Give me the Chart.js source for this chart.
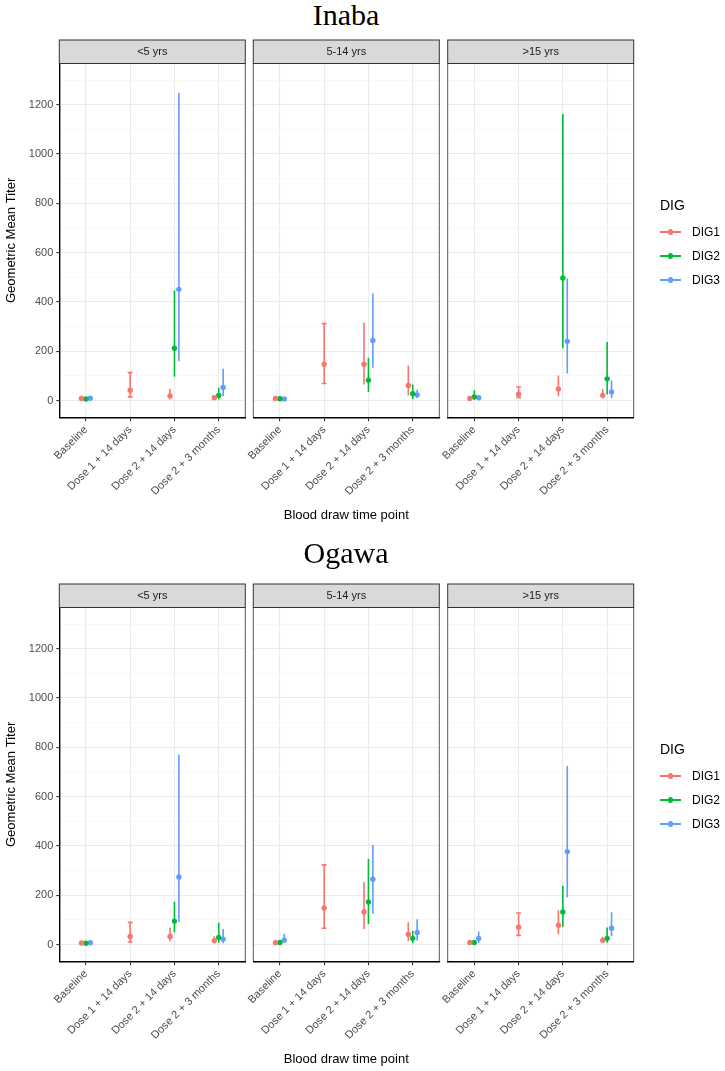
<!DOCTYPE html>
<html>
<head>
<meta charset="utf-8">
<script src="https://cdn.jsdelivr.net/npm/chart.js@4.4.1/dist/chart.umd.min.js"></script>
<style>
  body { margin: 0; background: #fff; }
  #page { position: relative; width: 725px; height: 1071px; overflow: hidden; background: #fff;
          font-family: "Liberation Sans", Arial, sans-serif; }
  #page canvas { position: absolute; left: 0; top: 0; }
  .title { position: absolute; left: 59px; width: 574px; text-align: center; color: #000;
           font-family: "Liberation Serif", "Times New Roman", serif; font-size: 30px; line-height: 30px; }
  .legend { position: absolute; left: 660px; color: #000; }
  .legend .head { font-size: 14px; line-height: 16px; margin-bottom: 7px; }
  .legend .item { position: relative; height: 24px; font-size: 12px; line-height: 24px; padding-left: 32px; }
  .legend .line { position: absolute; left: 0; top: 11px; width: 21px; height: 1.6px; }
  .legend .dot { position: absolute; left: 8px; top: 9.2px; width: 5.4px; height: 5.4px; border-radius: 50%; }
</style>
</head>
<body>
<div id="page"></div>
<script>
const timePoints = ['Baseline', 'Dose 1 + 14 days', 'Dose 2 + 14 days', 'Dose 2 + 3 months'];
const ageGroups = ['<5 yrs', '5-14 yrs', '>15 yrs'];
const digNames = ['DIG1', 'DIG2', 'DIG3'];
const digColors = ['#F8766D', '#00BA38', '#619CFF'];
const yGrid = [0, 100, 200, 300, 400, 500, 600, 700, 800, 900, 1000, 1100, 1200, 1300];
const yLabels = [0, 200, 400, 600, 800, 1000, 1200];

// values are [dig][age group][time point]
const inabaGmt = [
  [[8, 42, 19, 11], [8, 147, 147, 61], [8, 26, 47, 21]],
  [[6, null, 212, 21], [7, null, 82, 28], [15, null, 497, 88]],
  [[9, null, 451, 53], [6, null, 244, 23], [11, null, 240, 35]]
];
const inabaLower = [
  [[5, 15, 8, 6], [6, 69, 68, 24], [5, 13, 21, 13]],
  [[4, null, 100, 8], [5, null, 38, 8], [5, null, 215, 28]],
  [[6, null, 163, 21], [4, null, 136, 13], [7, null, 113, 13]]
];
const inabaUpper = [
  [[12, 113, 45, 18], [11, 312, 312, 139], [11, 55, 98, 44]],
  [[9, null, 443, 49], [10, null, 170, 62], [38, null, 1159, 234]],
  [[13, null, 1244, 126], [9, null, 431, 41], [16, null, 492, 78]]
];

const ogawaGmt = [
  [[6, 33, 33, 16], [7, 148, 132, 41], [8, 70, 78, 17]],
  [[5, null, 95, 29], [8, null, 173, 25], [8, null, 132, 25]],
  [[7, null, 274, 22], [18, null, 265, 49], [25, null, 377, 66]]
];
const ogawaLower = [
  [[4, 10, 17, 8], [5, 66, 66, 17], [5, 37, 45, 10]],
  [[3, null, 53, 10], [5, null, 87, 8], [5, null, 74, 10]],
  [[4, null, 95, 8], [8, null, 128, 20], [8, null, 195, 37]]
];
const ogawaUpper = [
  [[9, 90, 66, 30], [10, 323, 249, 87], [12, 128, 136, 28]],
  [[8, null, 170, 85], [12, null, 344, 53], [12, null, 235, 66]],
  [[11, null, 768, 60], [40, null, 400, 99], [50, null, 721, 128]]
];

const W = 725, H = 1071;
const panelLeft = [59.3, 253.3, 447.7];
const panelWidth = 186;
const stripH = 23.5;
const xAxisH = 110;
const fontFamily = '"Liberation Sans", Arial, sans-serif';
const page = document.getElementById('page');

const errorBars = {
  id: 'errorBars',
  beforeDatasetsDraw(chart) {
    const ctx = chart.ctx, xs = chart.scales.x, ys = chart.scales.y;
    ctx.save();
    ctx.lineWidth = 1.6;
    chart.data.datasets.forEach(ds => {
      ctx.strokeStyle = ds.borderColor;
      ds.data.forEach(p => {
        const px = xs.getPixelForValue(p.x);
        const top = ys.getPixelForValue(p.hi);
        const bot = ys.getPixelForValue(p.lo);
        const c = xs.getPixelForValue(p.x + p.cap) - px;
        ctx.beginPath();
        ctx.moveTo(px, top); ctx.lineTo(px, bot);
        ctx.moveTo(px - c, top); ctx.lineTo(px + c, top);
        ctx.moveTo(px - c, bot); ctx.lineTo(px + c, bot);
        ctx.stroke();
      });
    });
    ctx.restore();
  }
};

const facetFrame = {
  id: 'facetFrame',
  afterDraw(chart, args, opts) {
    const ctx = chart.ctx;
    const {left, right, top, bottom} = chart.chartArea;
    ctx.save();
    ctx.strokeStyle = '#555';
    ctx.lineWidth = 1;
    ctx.beginPath();
    ctx.moveTo(left, bottom); 
    if (!opts.first) ctx.lineTo(left, top); else ctx.moveTo(left, top);
    ctx.lineTo(right, top);
    ctx.lineTo(right, bottom);
    ctx.stroke();
    // strip
    ctx.fillStyle = '#D9D9D9';
    ctx.fillRect(left, top - stripH, right - left, stripH);
    ctx.strokeStyle = '#333';
    ctx.strokeRect(left, top - stripH, right - left, stripH);
    ctx.fillStyle = '#1A1A1A';
    ctx.font = '11px ' + fontFamily;
    ctx.textAlign = 'center';
    ctx.textBaseline = 'middle';
    ctx.fillText(opts.label, (left + right) / 2, top - stripH / 2 + 0.5);
    ctx.restore();
  }
};

function buildDatasets(gmt, lower, upper, a) {
  return digNames.map((name, d) => {
    const pts = [];
    timePoints.forEach((tp, t) => {
      if (gmt[d][a][t] == null) return;
      const present = digNames.map((n, k) => k).filter(k => gmt[k][a][t] != null);
      const n = present.length;
      const i = present.indexOf(d);
      const dodge = 0.3;
      pts.push({
        x: t - dodge / 2 + (i + 0.5) * dodge / n,
        y: gmt[d][a][t],
        lo: lower[d][a][t],
        hi: upper[d][a][t],
        cap: 0.055 / n
      });
    });
    return {
      label: name,
      data: pts,
      backgroundColor: digColors[d],
      borderColor: digColors[d],
      pointRadius: 2.7,
      pointBorderWidth: 0,
      showLine: false
    };
  });
}

function drawPanel(gmt, lower, upper, a, plotTop, plotBottom) {
  const canvas = document.createElement('canvas');
  canvas.width = W;
  canvas.height = H;
  page.appendChild(canvas);
  const first = a === 0;
  const isMajor = c => c.tick && yLabels.includes(c.tick.value);

  new Chart(canvas, {
    type: 'scatter',
    data: {datasets: buildDatasets(gmt, lower, upper, a)},
    plugins: [errorBars, facetFrame],
    options: {
      responsive: false,
      animation: false,
      events: [],
      layout: {
        padding: {
          left: first ? 0 : panelLeft[a],
          right: W - panelLeft[a] - panelWidth,
          top: plotTop,
          bottom: H - plotBottom - xAxisH
        }
      },
      plugins: {
        legend: {display: false},
        tooltip: {enabled: false},
        facetFrame: {label: ageGroups[a], first: first}
      },
      scales: {
        x: {
          type: 'linear',
          min: -0.6,
          max: 3.6,
          afterBuildTicks: s => { s.ticks = timePoints.map((tp, i) => ({value: i})); },
          afterFit: s => { s.height = xAxisH; },
          grid: {color: '#EBEBEB', lineWidth: 1.1, tickLength: 4, tickColor: '#333'},
          border: {color: '#000', width: 1.4},
          ticks: {
            callback: v => timePoints[v],
            minRotation: 45,
            maxRotation: 45,
            autoSkip: false,
            padding: 2,
            color: '#4D4D4D',
            font: {size: 11, family: fontFamily}
          },
          title: {
            display: a === 1,
            text: 'Blood draw time point',
            color: '#000',
            font: {size: 13, family: fontFamily},
            padding: {top: 0, bottom: 4}
          }
        },
        y: {
          type: 'linear',
          min: -68,
          max: 1367,
          afterBuildTicks: s => { s.ticks = yGrid.map(v => ({value: v})); },
          afterFit: s => { s.width = first ? panelLeft[0] : 0; },
          grid: {
            color: c => isMajor(c) ? '#EBEBEB' : '#F4F4F4',
            lineWidth: c => isMajor(c) ? 1.1 : 0.6,
            drawTicks: first,
            tickLength: 3,
            tickColor: c => isMajor(c) ? '#333' : 'rgba(0,0,0,0)'
          },
          border: {display: first, color: '#000', width: 1.4},
          ticks: {
            display: first,
            autoSkip: false,
            padding: 3,
            callback: v => yLabels.includes(v) ? String(v) : '',
            color: '#4D4D4D',
            font: {size: 11, family: fontFamily}
          },
          title: {
            display: first,
            text: 'Geometric Mean Titer',
            color: '#000',
            font: {size: 13, family: fontFamily},
            padding: {top: 4, bottom: 0}
          }
        }
      }
    }
  });
}

function addTitle(text, top) {
  const div = document.createElement('div');
  div.className = 'title';
  div.style.top = top + 'px';
  div.textContent = text;
  page.appendChild(div);
}

function addLegend(top) {
  const box = document.createElement('div');
  box.className = 'legend';
  box.style.top = top + 'px';
  let html = '<div class="head">DIG</div>';
  digNames.forEach((name, d) => {
    html += '<div class="item"><span class="line" style="background:' + digColors[d] + '"></span>' +
            '<span class="dot" style="background:' + digColors[d] + '"></span>' + name + '</div>';
  });
  box.innerHTML = html;
  page.appendChild(box);
}

// Inaba (top half)
addTitle('Inaba', 0);
ageGroups.forEach((g, a) => drawPanel(inabaGmt, inabaLower, inabaUpper, a, 63.5, 417.3));
addLegend(197);

// Ogawa (bottom half)
addTitle('Ogawa', 538);
ageGroups.forEach((g, a) => drawPanel(ogawaGmt, ogawaLower, ogawaUpper, a, 607.5, 961.3));
addLegend(741);
</script>
</body>
</html>
